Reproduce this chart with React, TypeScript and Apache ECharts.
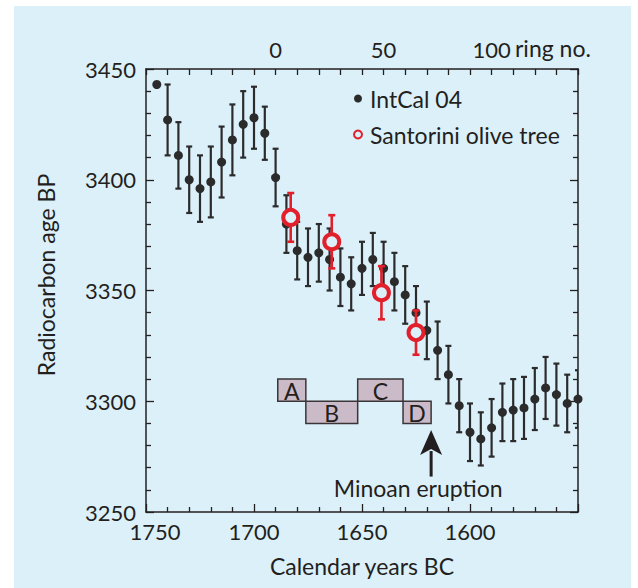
import React, { useEffect, useRef } from 'react';
import * as echarts from 'echarts';

// ---------- data ----------
const intcalYears = [
  1745, 1740, 1735, 1730, 1725, 1720, 1715, 1710, 1705, 1700,
  1695, 1690, 1685, 1680, 1675, 1670, 1665, 1660, 1655, 1650,
  1645, 1640, 1635, 1630, 1625, 1620, 1615, 1610, 1605, 1600,
  1595, 1590, 1585, 1580, 1575, 1570, 1565, 1560, 1555, 1550,
];
const intcalAges = [
  3443, 3427, 3411, 3400, 3396, 3399, 3408, 3418, 3425, 3428,
  3421, 3401, 3380, 3368, 3365, 3367, 3364, 3356, 3353, 3360,
  3364, 3360, 3354, 3348, 3340, 3332, 3323, 3312, 3298, 3286,
  3283, 3288, 3295, 3296, 3297, 3301, 3306, 3303, 3299, 3301,
];
const intcalErrors = [
  0, 16, 15, 15, 15, 16, 16, 16, 15, 14,
  12, 13, 13, 13, 13, 13, 14, 13, 12, 12,
  12, 12, 13, 13, 12, 13, 13, 13, 12, 13,
  12, 13, 13, 14, 14, 14, 14, 14, 13, 13,
];

const oliveYears = [1683, 1664, 1641, 1625];
const oliveAges = [3383, 3372, 3349, 3331];
const oliveErrors = [11, 12, 12, 10];

const boxLabels = ['A', 'B', 'C', 'D'];
const boxFrom = [1689, 1676, 1652, 1631];
const boxTo = [1676, 1652, 1631, 1618];
const boxLow = [3300, 3290, 3300, 3290];
const boxHigh = [3310, 3300, 3310, 3300];

const yearLabels = [1750, 1700, 1650, 1600];
const ringLabels = [0, 50, 100];
const ageLabels = [3250, 3300, 3350, 3400, 3450];

const eruptionYear = 1618;
const eruptionArrowFrom = 3266;
const eruptionArrowTo = 3287;
const eruptionTextYear = 1624;
const eruptionTextAge = 3261;

// ---------- style ----------
const FONT = 'Lato';
const INK = '#231f20';
const BG = '#dcf0fa';
const RED = '#e2202b';
const DOT = '#2b2b2b';
const TXT = 23;
const NUM = 22;

function errorBars(color: string, lw: number, cap: number) {
  return (params: any, api: any) => {
    const x = api.value(0);
    const y = api.value(1);
    const e = api.value(2);
    if (!e) return { type: 'group', children: [] };
    const hi = api.coord([x, y + e]);
    const lo = api.coord([x, y - e]);
    const st = { stroke: color, lineWidth: lw };
    return {
      type: 'group',
      children: [
        { type: 'line', shape: { x1: hi[0], y1: hi[1], x2: lo[0], y2: lo[1] }, style: st },
        { type: 'line', shape: { x1: hi[0] - cap, y1: hi[1], x2: hi[0] + cap, y2: hi[1] }, style: st },
        { type: 'line', shape: { x1: lo[0] - cap, y1: lo[1], x2: lo[0] + cap, y2: lo[1] }, style: st },
      ],
    };
  };
}

export default function App() {
  const ref = useRef<HTMLDivElement>(null);
  useEffect(() => {
    if (!ref.current) return;
    const chart = echarts.init(ref.current, null, { renderer: 'svg' });

    const intcalPts = intcalYears.map((y, i) => [y, intcalAges[i]]);
    const intcalErr = intcalYears.map((y, i) => [y, intcalAges[i], intcalErrors[i]]);
    const olivePts = oliveYears.map((y, i) => [y, oliveAges[i]]);
    const oliveErr = oliveYears.map((y, i) => [y, oliveAges[i], oliveErrors[i]]);
    const boxes = boxLabels.map((l, i) => [boxFrom[i], boxHigh[i], boxTo[i], boxLow[i], l]);

    const axisLine = { show: true, onZero: false, lineStyle: { color: INK, width: 1.5 } };
    const numLabel = { color: INK, fontFamily: FONT, fontSize: NUM };
    const txtLabel = { color: INK, fontFamily: FONT, fontSize: TXT };
    const tick = { show: true, inside: true, length: 8, lineStyle: { color: INK, width: 1.3 } };
    const minor = { show: true, splitNumber: 5, length: 5, lineStyle: { color: INK, width: 1.3 } };

    chart.setOption({
      animation: false,
      backgroundColor: '#ffffff',
      textStyle: { fontFamily: FONT, color: INK },
      grid: { left: 146, right: 60, top: 69, bottom: 76, containLabel: false },
      graphic: [
        {
          type: 'rect', z: -10, silent: true,
          shape: { x: 14, y: 6, width: 617, height: 590 },
          style: { fill: BG },
        },
        {
          type: 'text', x: 46, y: 275, rotation: Math.PI / 2, z: 10,
          style: {
            text: 'Radiocarbon age BP', fill: INK, font: `${TXT}px ${FONT}`,
            textAlign: 'center', textVerticalAlign: 'middle',
          },
        },
        {
          type: 'text', x: 515, y: 48, z: 10,
          style: {
            text: 'ring no.', fill: INK, font: `${TXT}px ${FONT}`,
            textAlign: 'left', textVerticalAlign: 'middle',
          },
        },
      ],
      legend: {
        orient: 'vertical',
        left: 348,
        top: 82,
        itemWidth: 14,
        itemHeight: 8,
        itemGap: 13,
        textStyle: { color: INK, fontFamily: FONT, fontSize: TXT },
        data: [
          { name: 'IntCal 04', icon: 'circle' },
          { name: 'Santorini olive tree', icon: 'circle' },
        ],
      },
      xAxis: [
        {
          type: 'value', position: 'bottom', min: 1550, max: 1750, interval: 50, inverse: true,
          axisLine, axisTick: tick, minorTick: minor,
          splitLine: { show: false },
          axisLabel: {
            ...numLabel, margin: 8,
            formatter: (v: number) =>
              yearLabels.includes(v) ? (v === 1750 ? `{s|${v}}` : `${v}`) : '',
            rich: { s: { ...numLabel, padding: [0, 0, 0, 18] } },
          },
          name: 'Calendar years BC', nameLocation: 'middle', nameGap: 42,
          nameTextStyle: { ...txtLabel },
        },
        {
          type: 'value', position: 'top', min: -60, max: 140, interval: 10,
          axisLine,
          axisTick: { ...tick, length: 6 },
          splitLine: { show: false },
          axisLabel: {
            ...numLabel, margin: 9,
            formatter: (v: number) => (ringLabels.includes(v) ? `${v}` : ''),
          },
        },
      ],
      yAxis: [
        {
          type: 'value', position: 'left', min: 3250, max: 3450, interval: 50,
          axisLine, axisTick: tick, minorTick: minor,
          splitLine: { show: false },
          axisLabel: {
            ...numLabel, margin: 10,
            formatter: (v: number) => (ageLabels.includes(v) ? `${v}` : ''),
          },
        },
        {
          type: 'value', position: 'right', min: 3250, max: 3450, interval: 50,
          axisLine, axisTick: tick, minorTick: minor,
          splitLine: { show: false },
          axisLabel: { show: false },
        },
      ],
      series: [
        {
          name: 'boxes', type: 'custom', xAxisIndex: 0, yAxisIndex: 0, z: 1,
          encode: { x: [0, 2], y: [1, 3] },
          data: boxes,
          renderItem: (params: any, api: any) => {
            const p0 = api.coord([api.value(0), api.value(1)]);
            const p1 = api.coord([api.value(2), api.value(3)]);
            const lbl = boxes[params.dataIndex][4];
            return {
              type: 'group',
              children: [
                {
                  type: 'rect',
                  shape: { x: p0[0], y: p0[1], width: p1[0] - p0[0], height: p1[1] - p0[1] },
                  style: { fill: '#cbbbc8', stroke: '#3a3536', lineWidth: 1.5 },
                },
                {
                  type: 'text',
                  x: (p0[0] + p1[0]) / 2, y: (p0[1] + p1[1]) / 2 + 1,
                  style: {
                    text: lbl, fill: INK, font: `${TXT}px ${FONT}`,
                    textAlign: 'center', textVerticalAlign: 'middle',
                  },
                },
              ],
            };
          },
        },
        {
          name: 'eruption', type: 'custom', xAxisIndex: 0, yAxisIndex: 0, z: 1,
          data: [[eruptionYear, eruptionArrowFrom, eruptionArrowTo, eruptionTextYear, eruptionTextAge]],
          encode: { x: 0, y: [1, 2] },
          renderItem: (params: any, api: any) => {
            const tail = api.coord([api.value(0), api.value(1)]);
            const tip = api.coord([api.value(0), api.value(2)]);
            const txt = api.coord([api.value(3), api.value(4)]);
            const headH = 25, headW = 11;
            return {
              type: 'group',
              children: [
                {
                  type: 'line',
                  shape: { x1: tail[0], y1: tail[1], x2: tip[0], y2: tip[1] + headH - 4 },
                  style: { stroke: INK, lineWidth: 3 },
                },
                {
                  type: 'polygon',
                  shape: {
                    points: [
                      [tip[0], tip[1]],
                      [tip[0] + headW, tip[1] + headH],
                      [tip[0], tip[1] + headH - 6],
                      [tip[0] - headW, tip[1] + headH],
                    ],
                  },
                  style: { fill: INK },
                },
                {
                  type: 'text', x: txt[0], y: txt[1],
                  style: {
                    text: 'Minoan eruption', fill: INK, font: `${TXT}px ${FONT}`,
                    textAlign: 'center', textVerticalAlign: 'middle',
                  },
                },
              ],
            };
          },
        },
        {
          name: 'intcal-err', type: 'custom', xAxisIndex: 0, yAxisIndex: 0, z: 2, clip: true,
          encode: { x: 0, y: 1 },
          data: intcalErr,
          renderItem: errorBars(DOT, 2.2, 3),
        },
        {
          name: 'IntCal 04', type: 'scatter', xAxisIndex: 0, yAxisIndex: 0, z: 3,
          symbol: 'circle', symbolSize: 9, clip: true,
          itemStyle: { color: DOT, opacity: 1 },
          data: intcalPts,
        },
        {
          name: 'olive-err', type: 'custom', xAxisIndex: 0, yAxisIndex: 0, z: 4, clip: true,
          encode: { x: 0, y: 1 },
          data: oliveErr,
          renderItem: errorBars(RED, 2.6, 3.5),
        },
        {
          name: 'Santorini olive tree', type: 'scatter', xAxisIndex: 0, yAxisIndex: 0, z: 5,
          symbol: 'circle', symbolSize: 15,
          itemStyle: { color: BG, borderColor: RED, borderWidth: 4, opacity: 1 },
          data: olivePts,
        },
      ],
    });
    return () => chart.dispose();
  }, []);
  return (
    <div
      ref={ref}
      style={{ position: 'absolute', left: 0, top: 0, width: 638, height: 588 }}
    />
  );
}
